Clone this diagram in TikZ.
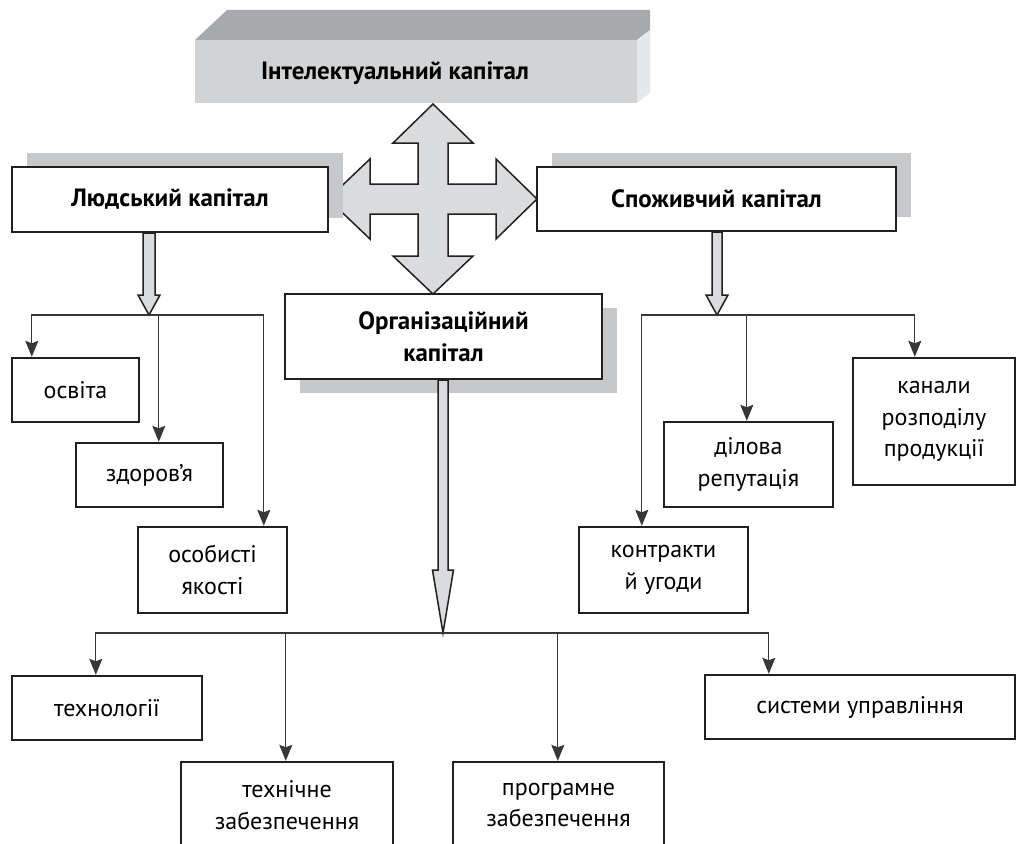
\documentclass[tikz,border=0pt]{standalone}
\usepackage{fontspec}
\setmainfont{PT Sans}
\usepackage{tikz}
\usetikzlibrary{arrows.meta,shadows}

\definecolor{ink}{RGB}{35,31,32}
\definecolor{wire}{RGB}{55,54,56}
\definecolor{topface}{RGB}{167,169,172}
\definecolor{frontface}{RGB}{209,211,212}
\definecolor{sideface}{RGB}{230,231,232}
\definecolor{shadowgray}{RGB}{199,200,202}
\definecolor{arrowfill}{RGB}{218,219,221}

\begin{document}
\begin{tikzpicture}[x=1pt, y=-1pt,
  box/.style={draw=ink, line width=2.4pt, fill=white, inner sep=0pt, align=center,
    font=\fontsize{24}{31.5}\selectfont},
  bigbox/.style={box, font=\bfseries\fontsize{25}{31.5}\selectfont},
  shadowed up/.style={general shadow={fill=shadowgray, shadow xshift=15pt, shadow yshift=14pt}},
  shadowed down/.style={general shadow={fill=shadowgray, shadow xshift=15pt, shadow yshift=-14pt}},
  link/.style={draw=wire, line width=1.3pt, -{Stealth[length=16pt,width=13pt,inset=2.5pt]}},
  fat/.style={draw=ink, line width=1.5pt, fill=arrowfill, line join=miter}]
\clip (0,0) rectangle (1019,843);

% top block
\fill[topface] (195,40) -- (227,10) -- (650,10) -- (650,30) -- (637,40) -- cycle;
\fill[sideface] (637,40) -- (650,30) -- (650,93) -- (637,103) -- cycle;
\fill[frontface] (195,40) rectangle (637,103);
\node[font=\bfseries\fontsize{25}{30}\selectfont] (intel) at (395,73) {Інтелектуальний капітал};

% four-way arrow
\begin{scope}[shift={(433,199)}]
\draw[fat] (0,-95) -- (40,-56) -- (15,-56) -- (15,-15) -- (63,-15) -- (63,-40) -- (104,0)
  -- (63,40) -- (63,15) -- (15,15) -- (15,57) -- (40,57) -- (0,95) -- (-40,57) -- (-15,57)
  -- (-15,15) -- (-63,15) -- (-63,40) -- (-105,0) -- (-63,-40) -- (-63,-15) -- (-15,-15)
  -- (-15,-56) -- (-40,-56) -- cycle;
\end{scope}

% main boxes
\node[bigbox, shadowed up, minimum width=316pt, minimum height=65pt] (hum) at (170,199.5) {Людський капітал};
\node[bigbox, shadowed up, minimum width=359pt, minimum height=64pt] (cons) at (716.5,199) {Споживчий капітал};
\node[bigbox, shadowed down, minimum width=317pt, minimum height=85pt] (org) at (443.5,336.5) {Організаційний\\капітал};

% components
\node[box, minimum width=127pt, minimum height=64pt] (osv) at (75.5,390) {освіта};
\node[box, minimum width=147pt, minimum height=64pt] (zd) at (149.5,475) {здоров’я};
\node[box, minimum width=149pt, minimum height=86pt] (os) at (212.5,570) {особисті\\якості};
\node[box, minimum width=169pt, minimum height=86pt] (kontr) at (663.5,570) {контракти\\й угоди};
\node[box, minimum width=169pt, minimum height=85pt] (dil) at (748.5,464.5) {ділова\\репутація};
\node[box, minimum width=162pt, minimum height=127pt] (kan) at (934,421.5) {канали\\розподілу\\продукції};
\node[box, minimum width=190pt, minimum height=64pt] (tech) at (107,708) {технології};
\node[box, minimum width=212pt, minimum height=86pt] (tz) at (287,805) {технічне\\забезпечення};
\node[box, minimum width=211pt, minimum height=86pt] (prog) at (558.5,805) {програмне\\забезпечення};
\node[box, minimum width=310pt, minimum height=64pt] (sys) at (860,707) {системи управління};

% branch points
\coordinate (hb) at (149,315);
\coordinate (cb) at (717,315);
\coordinate (ob) at (443,633);

% fat arrows
\draw[fat] ([xshift=-6pt]hb |- hum.south) -- ([shift={(-6,-20)}]hb) -- ([shift={(-11,-20)}]hb) -- (hb)
  -- ([shift={(11,-20)}]hb) -- ([shift={(6,-20)}]hb) -- ([xshift=6pt]hb |- hum.south) -- cycle;
\draw[fat] ([xshift=-5pt]cb |- cons.south) -- ([shift={(-5,-20)}]cb) -- ([shift={(-11,-20)}]cb) -- (cb)
  -- ([shift={(11,-20)}]cb) -- ([shift={(5,-20)}]cb) -- ([xshift=5pt]cb |- cons.south) -- cycle;
\draw[fat] ([xshift=-5pt]ob |- org.south) -- ([shift={(-5,-63)}]ob) -- ([shift={(-10.5,-63)}]ob) -- (ob)
  -- ([shift={(10.5,-63)}]ob) -- ([shift={(5,-63)}]ob) -- ([xshift=5pt]ob |- org.south) -- cycle;

% links
\draw[link] (hb) -| ([xshift=21pt]osv.north west);
\draw[link] (hb) -| ([xshift=84pt]zd.north west);
\draw[link] (hb) -| ([xshift=127pt]os.north west);
\draw[link] (cb) -| ([xshift=64pt]kontr.north west);
\draw[link] (cb) -| ([xshift=84pt]dil.north west);
\draw[link] (cb) -| ([xshift=63pt]kan.north west);
\draw[link] (ob) -| ([xshift=85pt]tech.north west);
\draw[link] (ob) -| ([xshift=106pt]tz.north west);
\draw[link] (ob) -| ([xshift=106pt]prog.north west);
\draw[link] (ob) -| ([xshift=65pt]sys.north west);
\end{tikzpicture}
\end{document}
